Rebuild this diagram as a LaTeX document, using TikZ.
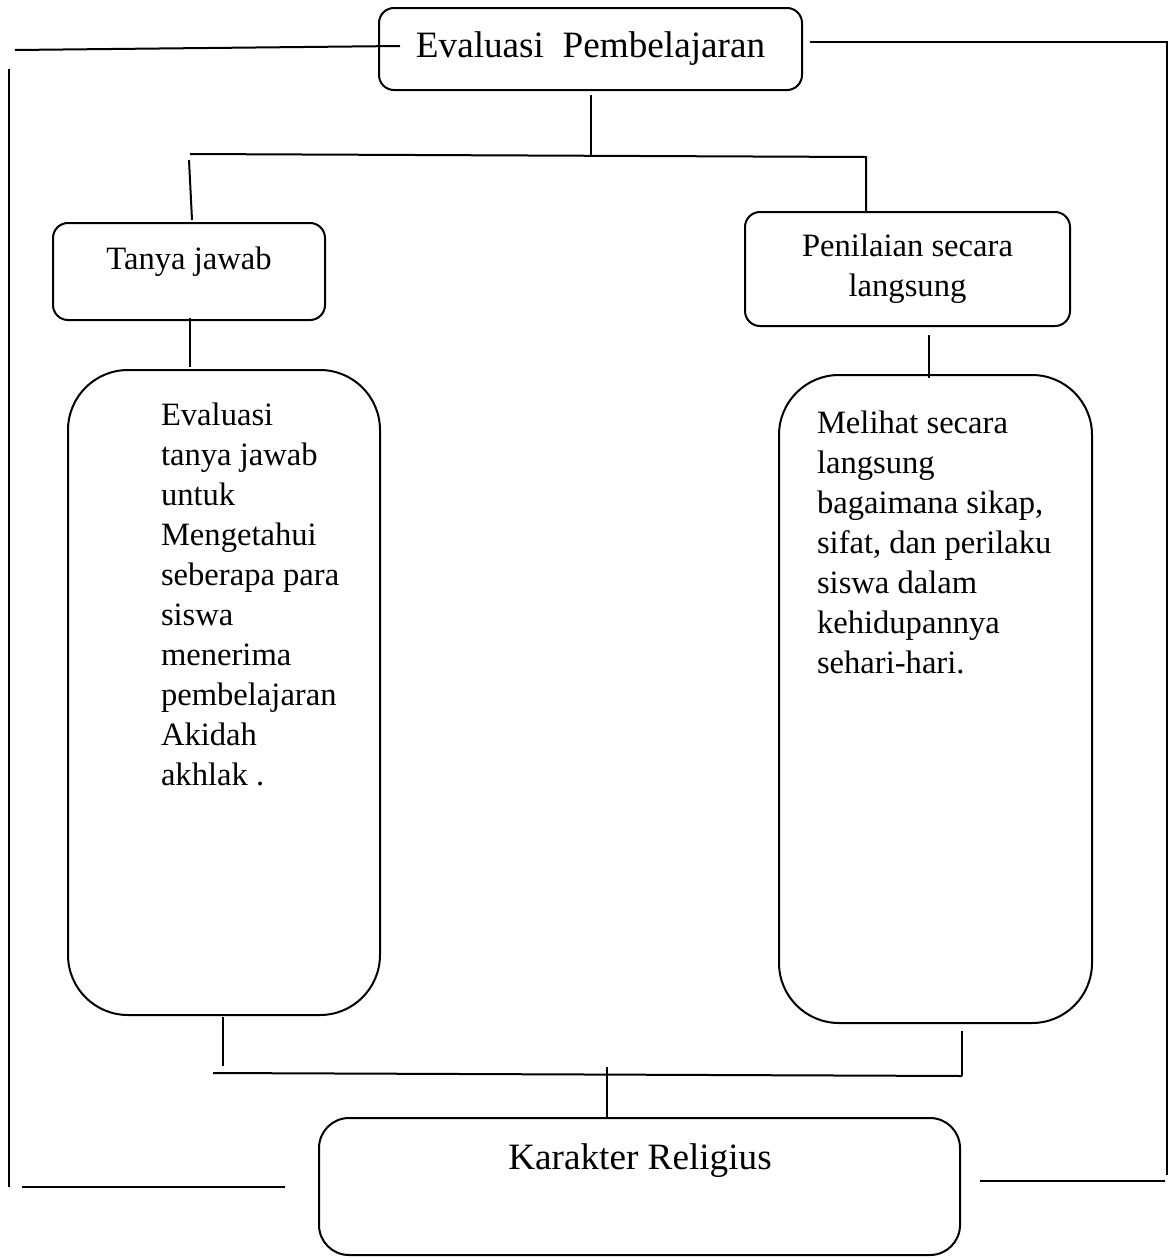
\documentclass[tikz,border=0pt]{standalone}
\usepackage{fontspec}
\setmainfont{Liberation Serif}
\begin{document}
\begin{tikzpicture}[x=0.5pt,y=-0.5pt,line width=1pt,
  box/.style={draw,line width=1pt,inner sep=0pt,align=center},
  body/.style={font=\fontsize{16.3}{20}\selectfont},
  big/.style={font=\fontsize{18.6}{22}\selectfont}]
\useasboundingbox (0,0) rectangle (1169,1258);
% boxes
\node[box,big,rounded corners=7.5pt,minimum width=211.5pt,minimum height=41pt] (top) at (590.5,49) {Evaluasi\ \ Pembelajaran};
\node[box,rounded corners=7.5pt,minimum width=136pt,minimum height=48.5pt] (tanya) at (189,271.5) {};
\node[body,inner sep=0pt] (tanyatxt) at (189,262) {Tanya jawab};
\node[box,body,rounded corners=7.5pt,minimum width=162.5pt,minimum height=57pt] (nilai) at (907.5,269) {Penilaian secara\\langsung};
\node[box,rounded corners=30pt,minimum width=156pt,minimum height=322.5pt] (lbig) at (224,692.5) {};
\node[box,rounded corners=30pt,minimum width=156.5pt,minimum height=324pt] (rbig) at (935.5,699) {};
\node[body,inner sep=0pt,anchor=north west,align=left] (ltxt) at (160,402) {Evaluasi\\tanya jawab\\untuk\\Mengetahui\\seberapa para\\siswa\\menerima\\pembelajaran\\Akidah\\akhlak .};
\node[body,inner sep=0pt,anchor=north west,align=left] (rtxt) at (816,410) {Melihat secara\\langsung\\bagaimana sikap,\\sifat, dan perilaku\\siswa dalam\\kehidupannya\\sehari-hari.};
\node[box,rounded corners=15pt,minimum width=320.5pt,minimum height=68.5pt] (kar) at (639.5,1186.5) {};
\node[big,inner sep=0pt] (kartxt) at (640,1161) {Karakter Religius};
% coordinates for free ends
\coordinate (a1) at (15,50);
\coordinate (a2) at (400,46);
\coordinate (b1) at (9,69);
\coordinate (b2) at (9,1187);
\coordinate (c1) at (22,1187);
\coordinate (c2) at (285,1187);
\coordinate (d1) at (810,42);
\coordinate (d2) at (1167,42);
\coordinate (d3) at (1167,1175);
\coordinate (e1) at (980,1181);
\coordinate (e2) at (1165,1181);
\coordinate (f1) at (591,95);
\coordinate (f2) at (591,157);
\coordinate (g1) at (190,154);
\coordinate (g2) at (866,157);
\coordinate (h1) at (189,160);
\coordinate (h2) at (192,220);
\coordinate (i1) at (190,318);
\coordinate (i2) at (190,367);
\coordinate (j1) at (929,335);
\coordinate (j2) at (929,378);
\coordinate (k1) at (223,1017);
\coordinate (k2) at (223,1066);
\coordinate (l1) at (213,1073);
\coordinate (l2) at (962,1076);
\coordinate (m1) at (962,1031);
\coordinate (n1) at (607,1067);
% connectors
\draw (a1) -- (a2);
\draw (b1) -- (b2);
\draw (c1) -- (c2);
\draw (d1) -- (d2) -- (d3);
\draw (e1) -- (e2);
\draw (f1) -- (f2);
\draw (g1) -- (g2) -- (g2 |- nilai.north);
\draw (h1) -- (h2);
\draw (i1) -- (i2);
\draw (j1) -- (j2);
\draw (k1) -- (k2);
\draw (l1) -- (l2);
\draw (m1) -- (m1 |- l2);
\draw (n1) -- (n1 |- kar.north);
\end{tikzpicture}
\end{document}
